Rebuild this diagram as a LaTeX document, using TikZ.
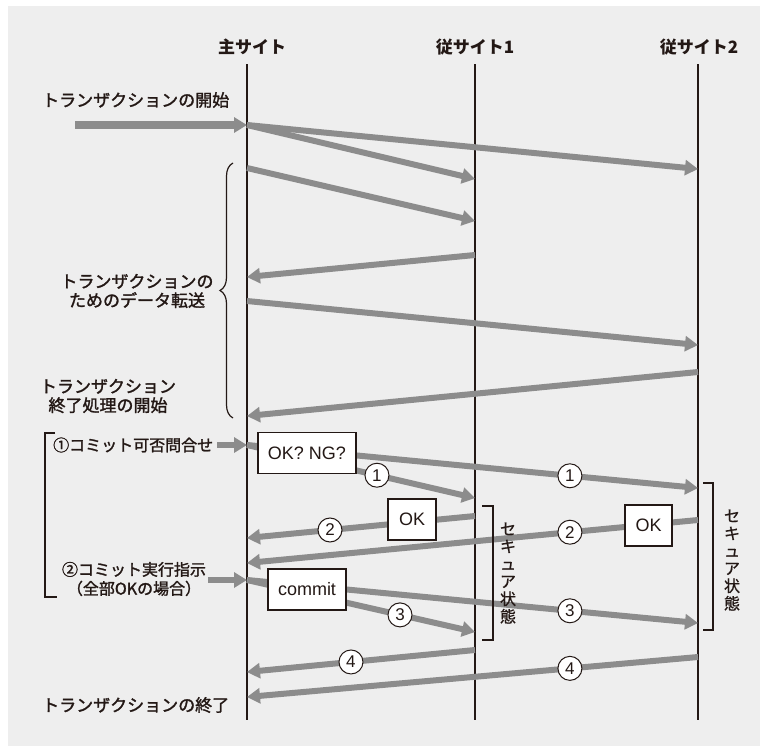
\documentclass[tikz,border=0pt]{standalone}
\usepackage{fontspec}
\usepackage{xcolor}
\usepackage{tikz}
\usetikzlibrary{arrows.meta,positioning,decorations.pathreplacing}
\setmainfont{Liberation Sans}
\newfontfamily\jpfont{Noto Sans CJK JP}
\newfontfamily\jplabel[FakeBold=1.6]{Noto Sans CJK JP}
\newfontfamily\jpvert[FakeBold=0.8]{Noto Sans CJK JP}
\definecolor{inkBlack}{RGB}{35,24,21}
\definecolor{msgGray}{RGB}{140,140,140}
\definecolor{bgGray}{RGB}{238,238,238}
\begin{document}
\begin{tikzpicture}[x=1pt,y=-1pt,
  header/.style={text=inkBlack, font=\jpfont\bfseries\fontsize{17}{19}\selectfont},
  lbl/.style={text=inkBlack, align=center, inner sep=0pt, font=\jplabel\fontsize{17}{19}\selectfont},
  lblsmall/.style={text=inkBlack, align=center, inner sep=0pt, font=\jplabel\fontsize{16}{19}\selectfont},
  lifeline/.style={draw=inkBlack, line width=1.2pt},
  msg/.style={draw=msgGray, line width=6pt, -{Triangle[length=13pt,width=15pt]}},
  numc/.style={circle, draw=inkBlack, fill=white, line width=1pt, minimum size=24pt, inner sep=0pt, text=inkBlack, font=\fontsize{17}{17}\selectfont},
  boxnode/.style={draw=inkBlack, fill=white, line width=1.2pt, inner sep=0pt, minimum height=41pt, text=inkBlack, font=\fontsize{18}{18}\selectfont},
  bracket/.style={draw=inkBlack, line width=1.2pt},
  vtext/.style={text=inkBlack, align=center, inner sep=0pt, font=\jpvert\fontsize{16}{17.5}\selectfont}]
\useasboundingbox (0,0) rectangle (760,747);
\fill[bgGray] (8,6) rectangle (760,746);

\node[header] (hmain) at (252,47) {主サイト};
\node[header] (hsub1) at (475,47) {従サイト1};
\node[header] (hsub2) at (699,47) {従サイト2};

\coordinate (mtop) at (247,64);
\coordinate (mbot) at (247,720);
\coordinate (atop) at (475,64);
\coordinate (abot) at (475,720);
\coordinate (btop) at (698,64);
\coordinate (bbot) at (698,720);
\draw[lifeline] (mtop) -- (mbot);
\draw[lifeline] (atop) -- (abot);
\draw[lifeline] (btop) -- (bbot);

\coordinate (m1) at (247,125);
\coordinate (m2) at (247,168);
\coordinate (m3) at (247,277);
\coordinate (m4) at (247,301);
\coordinate (m5) at (247,416);
\coordinate (m6) at (247,445);
\coordinate (m7) at (247,538);
\coordinate (m8) at (247,563);
\coordinate (m9) at (247,580);
\coordinate (m10) at (247,672);
\coordinate (m11) at (247,697);
\coordinate (a1) at (475,179);
\coordinate (a2) at (475,221);
\coordinate (a3) at (475,255);
\coordinate (a4) at (475,498);
\coordinate (a5) at (475,516);
\coordinate (a6) at (475,632);
\coordinate (a7) at (475,650);
\coordinate (b1) at (698,169);
\coordinate (b2) at (698,345);
\coordinate (b3) at (698,372);
\coordinate (b4) at (698,488);
\coordinate (b5) at (698,520);
\coordinate (b6) at (698,623);
\coordinate (b7) at (698,657);
\coordinate (s0) at (75,125);
\coordinate (q0) at (217,445);
\coordinate (x0) at (208,580);

\node[lbl, anchor=west] (tstart) at (42,100) {トランザクションの開始};
\node[lbl] (tdata) at (137,291) {トランザクションの\\ためのデータ転送};
\node[lbl] (tfin) at (108,396) {トランザクション\\終了処理の開始};
\node[lblsmall, anchor=west] (tq) at (53,445) {①コミット可否問合せ};
\node[lblsmall] (tc) at (134,579) {②コミット実行指示\\（全部OKの場合）};
\node[lbl, anchor=west] (tend) at (42,705) {トランザクションの終了};

\draw[msg, line width=8pt] (s0) -- (m1);
\draw[msg] (m1) -- (b1);
\draw[msg] (m1) -- (a1);
\draw[msg] (m2) -- (a2);
\draw[msg] (a3) -- (m3);
\draw[msg] (m4) -- (b2);
\draw[msg] (b3) -- (m5);

\draw[msg] (q0) -- (m6);
\draw[msg] (m6) -- (b4) node[numc, pos=0.716] (c1b) {1};
\draw[msg] (m6) -- (a4) node[numc, pos=0.57] (c1a) {1};
\draw[msg] (a5) -- (m7) node[numc, pos=0.636] (c2a) {2};
\draw[msg] (b5) -- (m8) node[numc, pos=0.284] (c2b) {2};
\draw[msg] (x0) -- (m9);
\draw[msg] (m9) -- (b6) node[numc, pos=0.716] (c3b) {3};
\draw[msg] (m9) -- (a6) node[numc, pos=0.671] (c3a) {3};
\draw[msg] (a7) -- (m10) node[numc, pos=0.544] (c4a) {4};
\draw[msg] (b7) -- (m11) node[numc, pos=0.284] (c4b) {4};

\node[boxnode, minimum width=98pt] (okng) at (307,453) {OK? NG?};
\node[boxnode, minimum width=48pt] (ok1) at (412,519.5) {OK};
\node[boxnode, minimum width=47pt] (ok2) at (648.5,525.5) {OK};
\node[boxnode, minimum width=78pt] (commit) at (307,589.5) {commit};

\draw[bracket, decorate, decoration={brace, amplitude=13pt, aspect=0.5}] (233,418) -- (233,163);
\draw[bracket] (55,433) -- (45,433) -- (45,597) -- (57,597);
\draw[bracket] (482,506) -- (493,506) -- (493,640) -- (482,640);
\draw[bracket] (703,483) -- (713,483) -- (713,630) -- (703,630);

\node[vtext] (sec1) at (508,573) {セ\\キ\\ュ\\ア\\状\\態};
\node[vtext] (sec2) at (732,560) {セ\\キ\\ュ\\ア\\状\\態};
\end{tikzpicture}
\end{document}
